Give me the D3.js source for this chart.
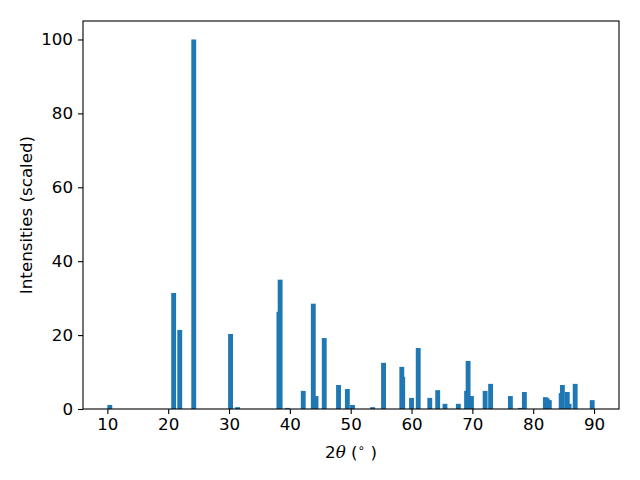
<!DOCTYPE html>
<html>
<head>
<meta charset="utf-8">
<script src="https://cdn.jsdelivr.net/npm/d3@7"></script>
<style>
  body { margin: 0; background: #fff; }
  text { font-family: "DejaVu Sans", sans-serif; }
</style>
</head>
<body>
<div id="chart"></div>
<script>
// peak positions (2theta, degrees) and scaled intensities
const twoTheta = [10.4, 20.9, 21.9, 24.2, 30.25, 31.4, 38.2, 38.4, 39.6, 42.2,
                  43.85, 44.3, 45.65, 48.0, 49.45, 50.3, 53.6, 55.4, 58.4, 58.55,
                  60.0, 61.1, 63.0, 64.3, 65.5, 67.7, 69.05, 69.3, 69.85, 72.1,
                  73.0, 76.25, 77.9, 78.55, 82.0, 82.3, 82.65, 84.6, 84.8, 85.6,
                  85.9, 86.9, 89.7];
const intensity = [1.1, 31.4, 21.4, 100, 20.3, 0.5, 26.3, 35.0, 0.3, 4.9,
                   28.5, 3.5, 19.2, 6.5, 5.4, 1.1, 0.5, 12.5, 11.4, 8.7,
                   3.0, 16.5, 3.0, 5.1, 1.4, 1.4, 4.9, 13.0, 3.5, 4.9,
                   6.8, 3.5, 0.3, 4.6, 3.2, 2.9, 2.4, 4.3, 6.5, 4.6,
                   1.4, 6.8, 2.4];
const xTicks = [10, 20, 30, 40, 50, 60, 70, 80, 90];
const yTicks = [0, 20, 40, 60, 80, 100];
const barWidth = 0.8;

const data = twoTheta.map((t, i) => ({t: t, v: intensity[i]}));

const width = 640, height = 480;
const margin = {top: 21, right: 21, bottom: 71, left: 83};
const w = width - margin.left - margin.right,
      h = height - margin.top - margin.bottom;
const fs = 16.7;

const svg = d3.select("#chart").append("svg")
              .attr("width", width)
              .attr("height", height);

const g = svg.append("g")
             .attr("transform", `translate(${margin.left},${margin.top})`);

// matplotlib style 5% margins around the bar extents
const lo = d3.min(data, d => d.t - barWidth / 2),
      hi = d3.max(data, d => d.t + barWidth / 2);
const pad = (hi - lo) * 0.05;

const x = d3.scaleLinear().domain([lo - pad, hi + pad]).range([0, w]);
const y = d3.scaleLinear().domain([0, 105]).range([h, 0]);

g.selectAll("rect.bar")
  .data(data)
  .enter().append("rect")
  .attr("class", "bar")
  .attr("x", d => x(d.t - barWidth / 2))
  .attr("width", d => x(d.t + barWidth / 2) - x(d.t - barWidth / 2))
  .attr("y", d => y(d.v))
  .attr("height", d => y(0) - y(d.v))
  .attr("fill", "#1f77b4");

// axes
const xAxis = g.append("g")
  .attr("transform", `translate(0,${h})`)
  .call(d3.axisBottom(x).tickValues(xTicks).tickSize(5).tickPadding(4));
const yAxis = g.append("g")
  .call(d3.axisLeft(y).tickValues(yTicks).tickSize(5).tickPadding(5));

[xAxis, yAxis].forEach(a => {
  a.select(".domain").remove();
  a.selectAll(".tick line").attr("stroke", "#000").attr("stroke-width", 1.1);
  a.selectAll(".tick text").attr("font-size", fs).attr("fill", "#000");
});

// frame
g.append("rect")
  .attr("width", w).attr("height", h)
  .attr("fill", "none").attr("stroke", "#000").attr("stroke-width", 1.1);

// labels
const xl = svg.append("text")
  .attr("x", margin.left + w / 2)
  .attr("y", 458)
  .attr("text-anchor", "middle")
  .attr("font-size", fs);
xl.append("tspan").text("2");
xl.append("tspan").attr("font-style", "italic").attr("font-family", "DejaVu Serif").text("θ");
xl.append("tspan").text(" (");
xl.append("tspan").attr("font-size", 12).attr("dy", -6).text("∘");
xl.append("tspan").attr("dy", 6).text(" )");

svg.append("text")
  .attr("transform", `translate(32,${margin.top + h / 2}) rotate(-90)`)
  .attr("text-anchor", "middle")
  .attr("font-size", fs)
  .text("Intensities (scaled)");
</script>
</body>
</html>
